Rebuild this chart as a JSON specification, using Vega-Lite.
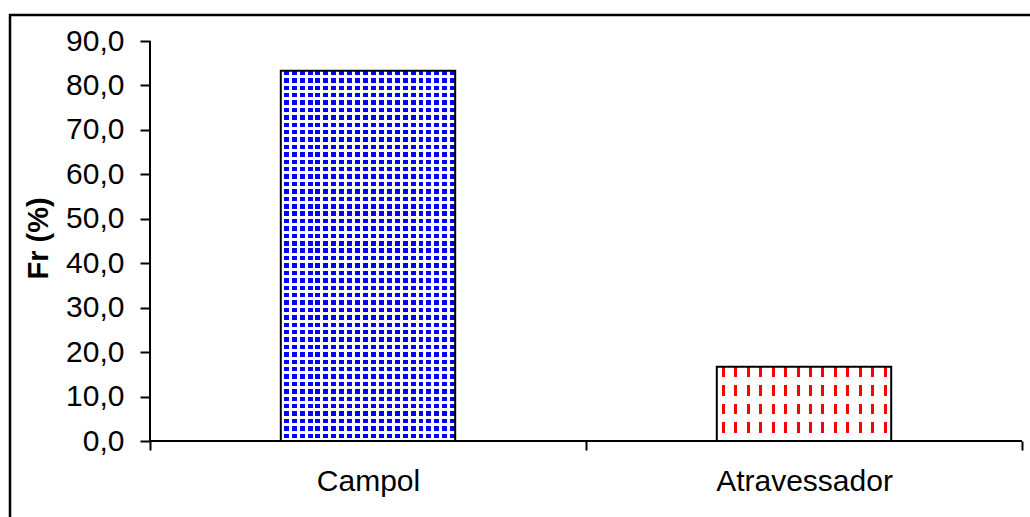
{
"$schema":"https://vega.github.io/schema/vega-lite/v6.json",
"width":1152,"height":526,
"autosize":{"type":"none"},
"padding":{"left":10,"top":15,"right":-132,"bottom":-24},
"background":"white",
"config":{"view":{"stroke":"black","strokeWidth":2.5},"axis":{"labelFont":"Liberation Sans","titleFont":"Liberation Sans","labelColor":"black","titleColor":"black","tickColor":"black","domain":false,"grid":false}},
"data":{"values":[{"cat":"Campol","fr":83.3},{"cat":"Atravessador","fr":16.7}]},
"encoding":{
"x":{"field":"cat","type":"nominal","sort":["Campol","Atravessador"],"scale":{"paddingInner":0,"paddingOuter":0.3211},
"axis":{"title":null,"orient":"bottom","offset":-100,"labelAngle":0,"labelFontSize":30,"labelPadding":16,"tickSize":9,"tickWidth":2,"tickBand":"extent","labelBaseline":"top"}},
"y":{"field":"fr","type":"quantitative","scale":{"domain":[-22.5,95.85],"nice":false,"zero":false},
"axis":{"title":"Fr (%)","values":[0,10,20,30,40,50,60,70,80,90],"labelExpr":"replace(format(datum.value,'.1f'),'.',',')","offset":-140,"tickSize":10,"tickWidth":2,"labelFontSize":30,"labelPadding":16,"titleFontSize":29,"titleFontWeight":"bold","titleX":-112,"titleY":223,"titleBaseline":"middle","titleAngle":-90,"titleAlign":"center"}}
},
"layer":[
{"transform":[{"filter":"datum.cat==='Campol'"}],
"mark":{"type":"bar","width":{"band":0.4},"strokeWidth":0,"fill":{"gradient":"linear","x1":0,"y1":0,"x2":0,"y2":1,"stops":[
{"offset":0,"color":"#00f"},{"offset":0.012,"color":"#00f"},{"offset":0.012,"color":"#fff"},{"offset":0.02,"color":"#fff"},
{"offset":0.02,"color":"#00f"},{"offset":0.032,"color":"#00f"},{"offset":0.032,"color":"#fff"},{"offset":0.04,"color":"#fff"},
{"offset":0.04,"color":"#00f"},{"offset":0.052,"color":"#00f"},{"offset":0.052,"color":"#fff"},{"offset":0.06,"color":"#fff"},
{"offset":0.06,"color":"#00f"},{"offset":0.072,"color":"#00f"},{"offset":0.072,"color":"#fff"},{"offset":0.08,"color":"#fff"},
{"offset":0.08,"color":"#00f"},{"offset":0.092,"color":"#00f"},{"offset":0.092,"color":"#fff"},{"offset":0.1,"color":"#fff"},
{"offset":0.1,"color":"#00f"},{"offset":0.112,"color":"#00f"},{"offset":0.112,"color":"#fff"},{"offset":0.12,"color":"#fff"},
{"offset":0.12,"color":"#00f"},{"offset":0.132,"color":"#00f"},{"offset":0.132,"color":"#fff"},{"offset":0.14,"color":"#fff"},
{"offset":0.14,"color":"#00f"},{"offset":0.152,"color":"#00f"},{"offset":0.152,"color":"#fff"},{"offset":0.16,"color":"#fff"},
{"offset":0.16,"color":"#00f"},{"offset":0.172,"color":"#00f"},{"offset":0.172,"color":"#fff"},{"offset":0.18,"color":"#fff"},
{"offset":0.18,"color":"#00f"},{"offset":0.192,"color":"#00f"},{"offset":0.192,"color":"#fff"},{"offset":0.2,"color":"#fff"},
{"offset":0.2,"color":"#00f"},{"offset":0.212,"color":"#00f"},{"offset":0.212,"color":"#fff"},{"offset":0.22,"color":"#fff"},
{"offset":0.22,"color":"#00f"},{"offset":0.232,"color":"#00f"},{"offset":0.232,"color":"#fff"},{"offset":0.24,"color":"#fff"},
{"offset":0.24,"color":"#00f"},{"offset":0.252,"color":"#00f"},{"offset":0.252,"color":"#fff"},{"offset":0.26,"color":"#fff"},
{"offset":0.26,"color":"#00f"},{"offset":0.272,"color":"#00f"},{"offset":0.272,"color":"#fff"},{"offset":0.28,"color":"#fff"},
{"offset":0.28,"color":"#00f"},{"offset":0.292,"color":"#00f"},{"offset":0.292,"color":"#fff"},{"offset":0.3,"color":"#fff"},
{"offset":0.3,"color":"#00f"},{"offset":0.312,"color":"#00f"},{"offset":0.312,"color":"#fff"},{"offset":0.32,"color":"#fff"},
{"offset":0.32,"color":"#00f"},{"offset":0.332,"color":"#00f"},{"offset":0.332,"color":"#fff"},{"offset":0.34,"color":"#fff"},
{"offset":0.34,"color":"#00f"},{"offset":0.352,"color":"#00f"},{"offset":0.352,"color":"#fff"},{"offset":0.36,"color":"#fff"},
{"offset":0.36,"color":"#00f"},{"offset":0.372,"color":"#00f"},{"offset":0.372,"color":"#fff"},{"offset":0.38,"color":"#fff"},
{"offset":0.38,"color":"#00f"},{"offset":0.392,"color":"#00f"},{"offset":0.392,"color":"#fff"},{"offset":0.4,"color":"#fff"},
{"offset":0.4,"color":"#00f"},{"offset":0.412,"color":"#00f"},{"offset":0.412,"color":"#fff"},{"offset":0.42,"color":"#fff"},
{"offset":0.42,"color":"#00f"},{"offset":0.432,"color":"#00f"},{"offset":0.432,"color":"#fff"},{"offset":0.44,"color":"#fff"},
{"offset":0.44,"color":"#00f"},{"offset":0.452,"color":"#00f"},{"offset":0.452,"color":"#fff"},{"offset":0.46,"color":"#fff"},
{"offset":0.46,"color":"#00f"},{"offset":0.472,"color":"#00f"},{"offset":0.472,"color":"#fff"},{"offset":0.48,"color":"#fff"},
{"offset":0.48,"color":"#00f"},{"offset":0.492,"color":"#00f"},{"offset":0.492,"color":"#fff"},{"offset":0.5,"color":"#fff"},
{"offset":0.5,"color":"#00f"},{"offset":0.512,"color":"#00f"},{"offset":0.512,"color":"#fff"},{"offset":0.52,"color":"#fff"},
{"offset":0.52,"color":"#00f"},{"offset":0.532,"color":"#00f"},{"offset":0.532,"color":"#fff"},{"offset":0.54,"color":"#fff"},
{"offset":0.54,"color":"#00f"},{"offset":0.552,"color":"#00f"},{"offset":0.552,"color":"#fff"},{"offset":0.56,"color":"#fff"},
{"offset":0.56,"color":"#00f"},{"offset":0.572,"color":"#00f"},{"offset":0.572,"color":"#fff"},{"offset":0.58,"color":"#fff"},
{"offset":0.58,"color":"#00f"},{"offset":0.592,"color":"#00f"},{"offset":0.592,"color":"#fff"},{"offset":0.6,"color":"#fff"},
{"offset":0.6,"color":"#00f"},{"offset":0.612,"color":"#00f"},{"offset":0.612,"color":"#fff"},{"offset":0.62,"color":"#fff"},
{"offset":0.62,"color":"#00f"},{"offset":0.632,"color":"#00f"},{"offset":0.632,"color":"#fff"},{"offset":0.64,"color":"#fff"},
{"offset":0.64,"color":"#00f"},{"offset":0.652,"color":"#00f"},{"offset":0.652,"color":"#fff"},{"offset":0.66,"color":"#fff"},
{"offset":0.66,"color":"#00f"},{"offset":0.672,"color":"#00f"},{"offset":0.672,"color":"#fff"},{"offset":0.68,"color":"#fff"},
{"offset":0.68,"color":"#00f"},{"offset":0.692,"color":"#00f"},{"offset":0.692,"color":"#fff"},{"offset":0.7,"color":"#fff"},
{"offset":0.7,"color":"#00f"},{"offset":0.712,"color":"#00f"},{"offset":0.712,"color":"#fff"},{"offset":0.72,"color":"#fff"},
{"offset":0.72,"color":"#00f"},{"offset":0.732,"color":"#00f"},{"offset":0.732,"color":"#fff"},{"offset":0.74,"color":"#fff"},
{"offset":0.74,"color":"#00f"},{"offset":0.752,"color":"#00f"},{"offset":0.752,"color":"#fff"},{"offset":0.76,"color":"#fff"},
{"offset":0.76,"color":"#00f"},{"offset":0.772,"color":"#00f"},{"offset":0.772,"color":"#fff"},{"offset":0.78,"color":"#fff"},
{"offset":0.78,"color":"#00f"},{"offset":0.792,"color":"#00f"},{"offset":0.792,"color":"#fff"},{"offset":0.8,"color":"#fff"},
{"offset":0.8,"color":"#00f"},{"offset":0.812,"color":"#00f"},{"offset":0.812,"color":"#fff"},{"offset":0.82,"color":"#fff"},
{"offset":0.82,"color":"#00f"},{"offset":0.832,"color":"#00f"},{"offset":0.832,"color":"#fff"},{"offset":0.84,"color":"#fff"},
{"offset":0.84,"color":"#00f"},{"offset":0.852,"color":"#00f"},{"offset":0.852,"color":"#fff"},{"offset":0.86,"color":"#fff"},
{"offset":0.86,"color":"#00f"},{"offset":0.872,"color":"#00f"},{"offset":0.872,"color":"#fff"},{"offset":0.88,"color":"#fff"},
{"offset":0.88,"color":"#00f"},{"offset":0.892,"color":"#00f"},{"offset":0.892,"color":"#fff"},{"offset":0.9,"color":"#fff"},
{"offset":0.9,"color":"#00f"},{"offset":0.912,"color":"#00f"},{"offset":0.912,"color":"#fff"},{"offset":0.92,"color":"#fff"},
{"offset":0.92,"color":"#00f"},{"offset":0.932,"color":"#00f"},{"offset":0.932,"color":"#fff"},{"offset":0.94,"color":"#fff"},
{"offset":0.94,"color":"#00f"},{"offset":0.952,"color":"#00f"},{"offset":0.952,"color":"#fff"},{"offset":0.96,"color":"#fff"},
{"offset":0.96,"color":"#00f"},{"offset":0.972,"color":"#00f"},{"offset":0.972,"color":"#fff"},{"offset":0.98,"color":"#fff"},
{"offset":0.98,"color":"#00f"},{"offset":0.992,"color":"#00f"},{"offset":0.992,"color":"#fff"},{"offset":1,"color":"#fff"}
]}},
"encoding":{"y2":{"datum":0}}},
{"transform":[{"filter":"datum.cat==='Campol'"}],
"mark":{"type":"bar","width":{"band":0.4},"strokeWidth":0,"fill":{"gradient":"linear","x1":0,"y1":0,"x2":1,"y2":0,"stops":[
{"offset":0,"color":"#fff"},{"offset":0.01705,"color":"#fff"},{"offset":0.01705,"color":"transparent"},{"offset":0.04545,"color":"transparent"},
{"offset":0.04545,"color":"#fff"},{"offset":0.0625,"color":"#fff"},{"offset":0.0625,"color":"transparent"},{"offset":0.09091,"color":"transparent"},
{"offset":0.09091,"color":"#fff"},{"offset":0.10796,"color":"#fff"},{"offset":0.10796,"color":"transparent"},{"offset":0.13636,"color":"transparent"},
{"offset":0.13636,"color":"#fff"},{"offset":0.15341,"color":"#fff"},{"offset":0.15341,"color":"transparent"},{"offset":0.18182,"color":"transparent"},
{"offset":0.18182,"color":"#fff"},{"offset":0.19887,"color":"#fff"},{"offset":0.19887,"color":"transparent"},{"offset":0.22727,"color":"transparent"},
{"offset":0.22727,"color":"#fff"},{"offset":0.24432,"color":"#fff"},{"offset":0.24432,"color":"transparent"},{"offset":0.27273,"color":"transparent"},
{"offset":0.27273,"color":"#fff"},{"offset":0.28977,"color":"#fff"},{"offset":0.28977,"color":"transparent"},{"offset":0.31818,"color":"transparent"},
{"offset":0.31818,"color":"#fff"},{"offset":0.33523,"color":"#fff"},{"offset":0.33523,"color":"transparent"},{"offset":0.36364,"color":"transparent"},
{"offset":0.36364,"color":"#fff"},{"offset":0.38068,"color":"#fff"},{"offset":0.38068,"color":"transparent"},{"offset":0.40909,"color":"transparent"},
{"offset":0.40909,"color":"#fff"},{"offset":0.42614,"color":"#fff"},{"offset":0.42614,"color":"transparent"},{"offset":0.45455,"color":"transparent"},
{"offset":0.45455,"color":"#fff"},{"offset":0.47159,"color":"#fff"},{"offset":0.47159,"color":"transparent"},{"offset":0.5,"color":"transparent"},
{"offset":0.5,"color":"#fff"},{"offset":0.51705,"color":"#fff"},{"offset":0.51705,"color":"transparent"},{"offset":0.54545,"color":"transparent"},
{"offset":0.54545,"color":"#fff"},{"offset":0.5625,"color":"#fff"},{"offset":0.5625,"color":"transparent"},{"offset":0.59091,"color":"transparent"},
{"offset":0.59091,"color":"#fff"},{"offset":0.60795,"color":"#fff"},{"offset":0.60795,"color":"transparent"},{"offset":0.63636,"color":"transparent"},
{"offset":0.63636,"color":"#fff"},{"offset":0.65341,"color":"#fff"},{"offset":0.65341,"color":"transparent"},{"offset":0.68182,"color":"transparent"},
{"offset":0.68182,"color":"#fff"},{"offset":0.69886,"color":"#fff"},{"offset":0.69886,"color":"transparent"},{"offset":0.72727,"color":"transparent"},
{"offset":0.72727,"color":"#fff"},{"offset":0.74432,"color":"#fff"},{"offset":0.74432,"color":"transparent"},{"offset":0.77273,"color":"transparent"},
{"offset":0.77273,"color":"#fff"},{"offset":0.78977,"color":"#fff"},{"offset":0.78977,"color":"transparent"},{"offset":0.81818,"color":"transparent"},
{"offset":0.81818,"color":"#fff"},{"offset":0.83523,"color":"#fff"},{"offset":0.83523,"color":"transparent"},{"offset":0.86364,"color":"transparent"},
{"offset":0.86364,"color":"#fff"},{"offset":0.88068,"color":"#fff"},{"offset":0.88068,"color":"transparent"},{"offset":0.90909,"color":"transparent"},
{"offset":0.90909,"color":"#fff"},{"offset":0.92614,"color":"#fff"},{"offset":0.92614,"color":"transparent"},{"offset":0.95455,"color":"transparent"},
{"offset":0.95455,"color":"#fff"},{"offset":0.97159,"color":"#fff"},{"offset":0.97159,"color":"transparent"},{"offset":1,"color":"transparent"}
]}},
"encoding":{"y2":{"datum":0}}},
{"transform":[{"filter":"datum.cat==='Atravessador'"}],
"mark":{"type":"bar","width":{"band":0.4},"strokeWidth":0,"fill":{"gradient":"linear","x1":0,"y1":0,"x2":1,"y2":0,"stops":[
{"offset":0,"color":"#fff"},
{"offset":0.0286,"color":"#fff"},{"offset":0.0286,"color":"#f00"},{"offset":0.0457,"color":"#f00"},{"offset":0.0457,"color":"#fff"},
{"offset":0.1,"color":"#fff"},{"offset":0.1,"color":"#f00"},{"offset":0.1171,"color":"#f00"},{"offset":0.1171,"color":"#fff"},
{"offset":0.1714,"color":"#fff"},{"offset":0.1714,"color":"#f00"},{"offset":0.1886,"color":"#f00"},{"offset":0.1886,"color":"#fff"},
{"offset":0.2429,"color":"#fff"},{"offset":0.2429,"color":"#f00"},{"offset":0.26,"color":"#f00"},{"offset":0.26,"color":"#fff"},
{"offset":0.3143,"color":"#fff"},{"offset":0.3143,"color":"#f00"},{"offset":0.3314,"color":"#f00"},{"offset":0.3314,"color":"#fff"},
{"offset":0.3857,"color":"#fff"},{"offset":0.3857,"color":"#f00"},{"offset":0.4029,"color":"#f00"},{"offset":0.4029,"color":"#fff"},
{"offset":0.4571,"color":"#fff"},{"offset":0.4571,"color":"#f00"},{"offset":0.4743,"color":"#f00"},{"offset":0.4743,"color":"#fff"},
{"offset":0.5286,"color":"#fff"},{"offset":0.5286,"color":"#f00"},{"offset":0.5457,"color":"#f00"},{"offset":0.5457,"color":"#fff"},
{"offset":0.6,"color":"#fff"},{"offset":0.6,"color":"#f00"},{"offset":0.6171,"color":"#f00"},{"offset":0.6171,"color":"#fff"},
{"offset":0.6714,"color":"#fff"},{"offset":0.6714,"color":"#f00"},{"offset":0.6886,"color":"#f00"},{"offset":0.6886,"color":"#fff"},
{"offset":0.7429,"color":"#fff"},{"offset":0.7429,"color":"#f00"},{"offset":0.76,"color":"#f00"},{"offset":0.76,"color":"#fff"},
{"offset":0.8143,"color":"#fff"},{"offset":0.8143,"color":"#f00"},{"offset":0.8314,"color":"#f00"},{"offset":0.8314,"color":"#fff"},
{"offset":0.8857,"color":"#fff"},{"offset":0.8857,"color":"#f00"},{"offset":0.9029,"color":"#f00"},{"offset":0.9029,"color":"#fff"},
{"offset":0.9571,"color":"#fff"},{"offset":0.9571,"color":"#f00"},{"offset":0.9743,"color":"#f00"},{"offset":0.9743,"color":"#fff"},
{"offset":1,"color":"#fff"}
]}},
"encoding":{"y2":{"datum":0}}},
{"transform":[{"filter":"datum.cat==='Atravessador'"}],
"mark":{"type":"bar","width":{"band":0.4},"strokeWidth":0,"fill":{"gradient":"linear","x1":0,"y1":0,"x2":0,"y2":1,"stops":[
{"offset":0,"color":"transparent"},{"offset":0.14,"color":"transparent"},{"offset":0.14,"color":"#fff"},{"offset":0.25,"color":"#fff"},
{"offset":0.25,"color":"transparent"},{"offset":0.39,"color":"transparent"},{"offset":0.39,"color":"#fff"},{"offset":0.5,"color":"#fff"},
{"offset":0.5,"color":"transparent"},{"offset":0.64,"color":"transparent"},{"offset":0.64,"color":"#fff"},{"offset":0.75,"color":"#fff"},
{"offset":0.75,"color":"transparent"},{"offset":0.89,"color":"transparent"},{"offset":0.89,"color":"#fff"},{"offset":1,"color":"#fff"}
]}},
"encoding":{"y2":{"datum":0}}},
{"mark":{"type":"bar","width":{"band":0.4},"filled":false,"stroke":"black","strokeWidth":2},
"encoding":{"y2":{"datum":0}}},
{"transform":[{"filter":"datum.cat==='Campol'"}],
"mark":{"type":"rule","stroke":"black","strokeWidth":2},
"encoding":{"x":{"field":"cat","type":"nominal","sort":["Campol","Atravessador"],"bandPosition":0},"y":{"datum":0,"type":"quantitative"},"y2":{"datum":90}}},
{"mark":{"type":"bar","width":{"band":1},"filled":false,"stroke":"black","strokeWidth":2},
"encoding":{"y":{"datum":0,"type":"quantitative"},"y2":{"datum":0}}}
]
}
